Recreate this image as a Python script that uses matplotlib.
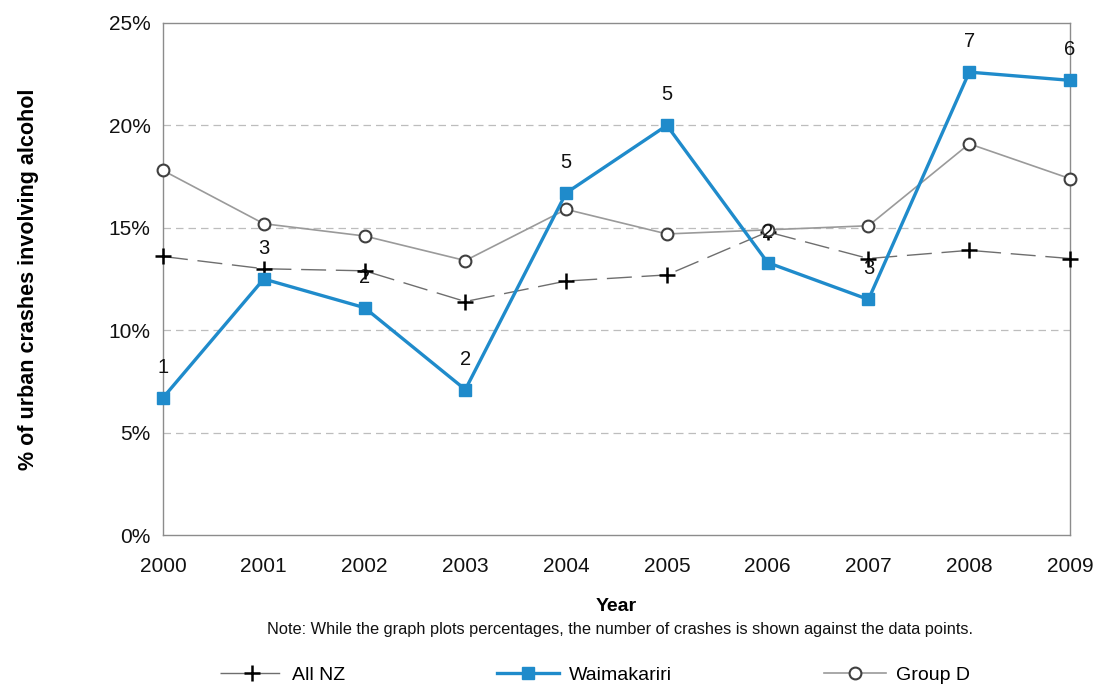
import matplotlib
matplotlib.use("Agg")
import matplotlib.pyplot as plt
from matplotlib.ticker import FuncFormatter, MultipleLocator

plt.rcParams['font.family'] = ['Liberation Sans', 'DejaVu Sans']

# Data: percentage of urban crashes involving alcohol
years = [2000, 2001, 2002, 2003, 2004, 2005, 2006, 2007, 2008, 2009]
all_nz = [13.6, 13.0, 12.9, 11.4, 12.4, 12.7, 14.8, 13.5, 13.9, 13.5]
waimakariri = [6.7, 12.5, 11.1, 7.1, 16.7, 20.0, 13.3, 11.5, 22.6, 22.2]
group_d = [17.8, 15.2, 14.6, 13.4, 15.9, 14.7, 14.9, 15.1, 19.1, 17.4]
waimakariri_counts = [1, 3, 2, 2, 5, 5, 2, 3, 7, 6]

blue = '#1f8bcb'
frame = '#8c8c8c'

fig = plt.figure(figsize=(10.96, 6.90), dpi=100)
ax = fig.add_axes([0.1487, 0.2246, 0.8276, 0.7421])

ax.plot(years, all_nz, color='#6e6e6e', lw=1.0, dashes=(18, 7),
        marker='+', markersize=11, markeredgewidth=1.8,
        markeredgecolor='black', label='All NZ', zorder=3, clip_on=False)
ax.plot(years, waimakariri, color=blue, lw=2.4,
        marker='s', markersize=9, markerfacecolor=blue,
        markeredgecolor=blue, label='Waimakariri', zorder=4, clip_on=False)
ax.plot(years, group_d, color='#9a9a9a', lw=1.2,
        marker='o', markersize=8.5, markerfacecolor='white',
        markeredgecolor='#404040', markeredgewidth=1.5,
        label='Group D', zorder=3, clip_on=False)

for x, y, n in zip(years, waimakariri, waimakariri_counts):
    ax.annotate(str(n), (x, y), xytext=(0, 22), textcoords='offset points',
                ha='center', va='center', fontsize=14.5, color='#111111',
                zorder=5)

ax.set_xlim(2000, 2009)
ax.set_ylim(0, 25)
ax.set_xticks(years)
ax.yaxis.set_major_locator(MultipleLocator(5))
ax.yaxis.set_major_formatter(FuncFormatter(lambda v, p: f"{v:.0f}%"))
ax.tick_params(axis='both', length=0, labelsize=15, colors='#111111')
ax.tick_params(axis='x', pad=16)
ax.tick_params(axis='y', pad=9)

for yv in [5, 10, 15, 20]:
    ax.axhline(yv, color='#bdbdbd', lw=0.9, dashes=(6, 4), zorder=1)

for s in ax.spines.values():
    s.set_color(frame)
    s.set_linewidth(1.0)

ax.set_xlabel('Year', fontsize=14, fontweight='bold', labelpad=16)
ax.set_ylabel('% of urban crashes involving alcohol', fontsize=15.5,
              fontweight='bold', labelpad=50)

fig.text(0.566, 0.087,
         'Note: While the graph plots percentages, the number of crashes is shown against the data points.',
         ha='center', va='center', fontsize=11.8, color='#111111')

handles, labels = ax.get_legend_handles_labels()
fig.legend(handles, labels, loc='center', bbox_to_anchor=(0.543, 0.022),
           ncol=3, frameon=False, fontsize=14, handlelength=3.2,
           handletextpad=0.5, columnspacing=7.8)

fig.savefig('out.png', dpi=100)
